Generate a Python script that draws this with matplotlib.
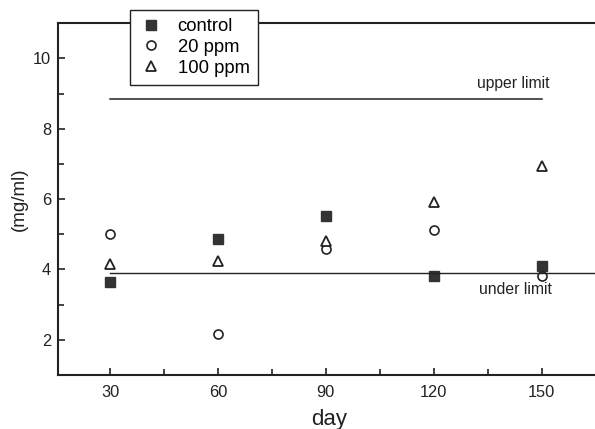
import numpy as np
import matplotlib
matplotlib.use("Agg")
import matplotlib.pyplot as plt
from matplotlib.ticker import MultipleLocator

plt.rcParams['font.family'] = ['Liberation Sans', 'DejaVu Sans']

# data
day = [30, 60, 90, 120, 150]
control = [3.65, 4.86, 5.53, 3.82, 4.10]
ppm20 = [5.01, 2.15, 4.59, 5.13, 3.80]
ppm100 = [4.16, 4.25, 4.80, 5.93, 6.95]
upper_limit = 8.85
under_limit = 3.90

fig = plt.figure(figsize=(5.95, 4.29), dpi=100)
ax = fig.add_axes([0.0975, 0.126, 0.91, 0.820])

ink = '#222222'
ax.plot(day, control, 's', color='#333333', markersize=7, linestyle='none', label='control')
ax.plot(day, ppm20, 'o', mfc='white', mec=ink, mew=1.2, markersize=6.5, linestyle='none', label='20 ppm')
ax.plot(day, ppm100, '^', mfc='white', mec=ink, mew=1.3, markersize=6.5, linestyle='none', label='100 ppm')

# limit lines
ax.plot([30, 150], [upper_limit, upper_limit], color=ink, lw=1.1)
ax.plot([30, 167], [under_limit, under_limit], color=ink, lw=1.0)
ax.text(152.2, upper_limit + 0.22, 'upper limit', ha='right', va='bottom', fontsize=11.3, color=ink)
ax.text(152.8, under_limit - 0.25, 'under limit', ha='right', va='top', fontsize=11.3, color=ink)

ax.set_xlim(15.5, 166.1)
ax.set_ylim(1, 11)
ax.xaxis.set_major_locator(MultipleLocator(30))
ax.xaxis.set_minor_locator(MultipleLocator(15))
ax.yaxis.set_major_locator(MultipleLocator(2))
ax.yaxis.set_minor_locator(MultipleLocator(1))
ax.tick_params(which='both', direction='in', color=ink, labelcolor=ink, width=1.2)
ax.tick_params(which='major', length=5, labelsize=11.8)
ax.tick_params(which='minor', length=4)
ax.tick_params(axis='x', pad=7)
ax.tick_params(axis='y', pad=5)
ax.spines['right'].set_visible(False)
for s in ['left', 'bottom', 'top']:
    ax.spines[s].set_linewidth(1.5)
    ax.spines[s].set_color(ink)

ax.set_xlabel('day', fontsize=16, color=ink, labelpad=7)
ax.set_ylabel('(mg/ml)', fontsize=13.5, color=ink, labelpad=4)

leg = fig.legend(loc='upper left', bbox_to_anchor=(0.218, 0.977), fontsize=13.3,
                 frameon=True, fancybox=False, edgecolor=ink, framealpha=1,
                 borderaxespad=0, labelspacing=0.2, handletextpad=0.75,
                 handlelength=1.4, borderpad=0.45)
leg.get_frame().set_linewidth(1.0)

fig.savefig('out.png', dpi=100)
